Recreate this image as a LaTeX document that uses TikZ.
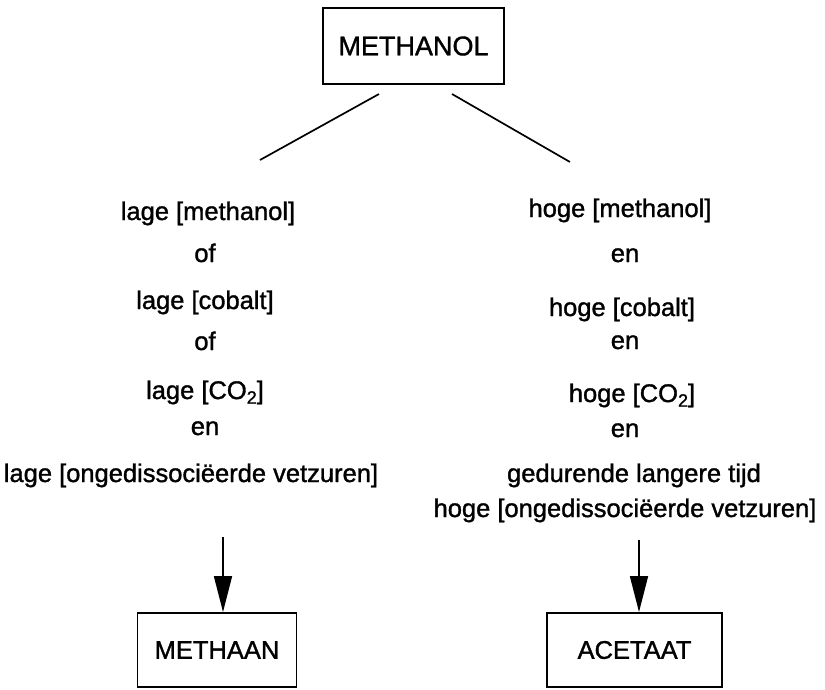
\documentclass[tikz,border=0pt]{standalone}
\usepackage{fontspec}
\setmainfont{Liberation Sans}[BoldFont={Liberation Sans}, BoldFeatures={FakeBold=1.3}]
\usepackage{tikz}
\usetikzlibrary{arrows.meta}

\newcommand{\sub}[1]{\raisebox{-0.35ex}{\fontsize{18}{20}\selectfont #1}}

\begin{document}
\begin{tikzpicture}[
    x=1pt, y=-1pt,
    stofbox/.style={rectangle, draw=black, line width=1.9pt, inner sep=0pt, font=\fontsize{25.5}{30}\selectfont\bfseries},
    cond/.style={anchor=base, inner sep=0pt, font=\fontsize{25.5}{30}\selectfont\bfseries},
    line/.style={draw=black, line width=1.7pt},
    pijl/.style={draw=black, line width=1.7pt, -{Triangle[length=36pt, width=18pt]}}
]
    \useasboundingbox (0,0) rectangle (825,689);

    \node[stofbox, minimum width=181pt, minimum height=76pt, font=\fontsize{27}{30}\selectfont\bfseries] (methanol) at (413.5,46) {METHANOL};
    \node[stofbox, minimum width=159pt, minimum height=74pt] (methaan) at (217,650) {METHAAN};
    \node[stofbox, minimum width=175pt, minimum height=74pt] (acetaat) at (634.5,650) {ACETAAT};

    % linker tak
    \node[cond] (lmeth) at (208,220) {lage [methanol]};
    \node[cond] (lof1) at (205,262) {of};
    \node[cond] (lcob) at (205,309) {lage [cobalt]};
    \node[cond] (lof2) at (205,350) {of};
    \node[cond] (lco) at (205,399) {lage [CO\sub{2}]};
    \node[cond] (len) at (205,435) {en};
    \node[cond] (lvet) at (191,482) {lage [ongedissociëerde vetzuren]};

    % rechter tak
    \node[cond] (hmeth) at (620,217) {hoge [methanol]};
    \node[cond] (hen1) at (625,262) {en};
    \node[cond] (hcob) at (622,316) {hoge [cobalt]};
    \node[cond] (hen2) at (625,349) {en};
    \node[cond] (hco) at (632,402) {hoge [CO\sub{2}]};
    \node[cond] (hen3) at (625,437) {en};
    \node[cond] (htijd) at (634,482) {gedurende langere tijd};
    \node[cond] (hvet) at (625,517) {hoge [ongedissociëerde vetzuren]};

    \coordinate (l0) at (379,94);
    \coordinate (l1) at (260,160);
    \coordinate (r0) at (452,94);
    \coordinate (r1) at (570,162);
    \coordinate (la) at (223,537);
    \coordinate (ra) at (639,540);

    % Connections
    \draw[line] (l0) -- (l1);
    \draw[line] (r0) -- (r1);
    \draw[pijl] (la) -- (la |- methaan.north);
    \draw[pijl] (ra) -- (ra |- acetaat.north);
\end{tikzpicture}
\end{document}
